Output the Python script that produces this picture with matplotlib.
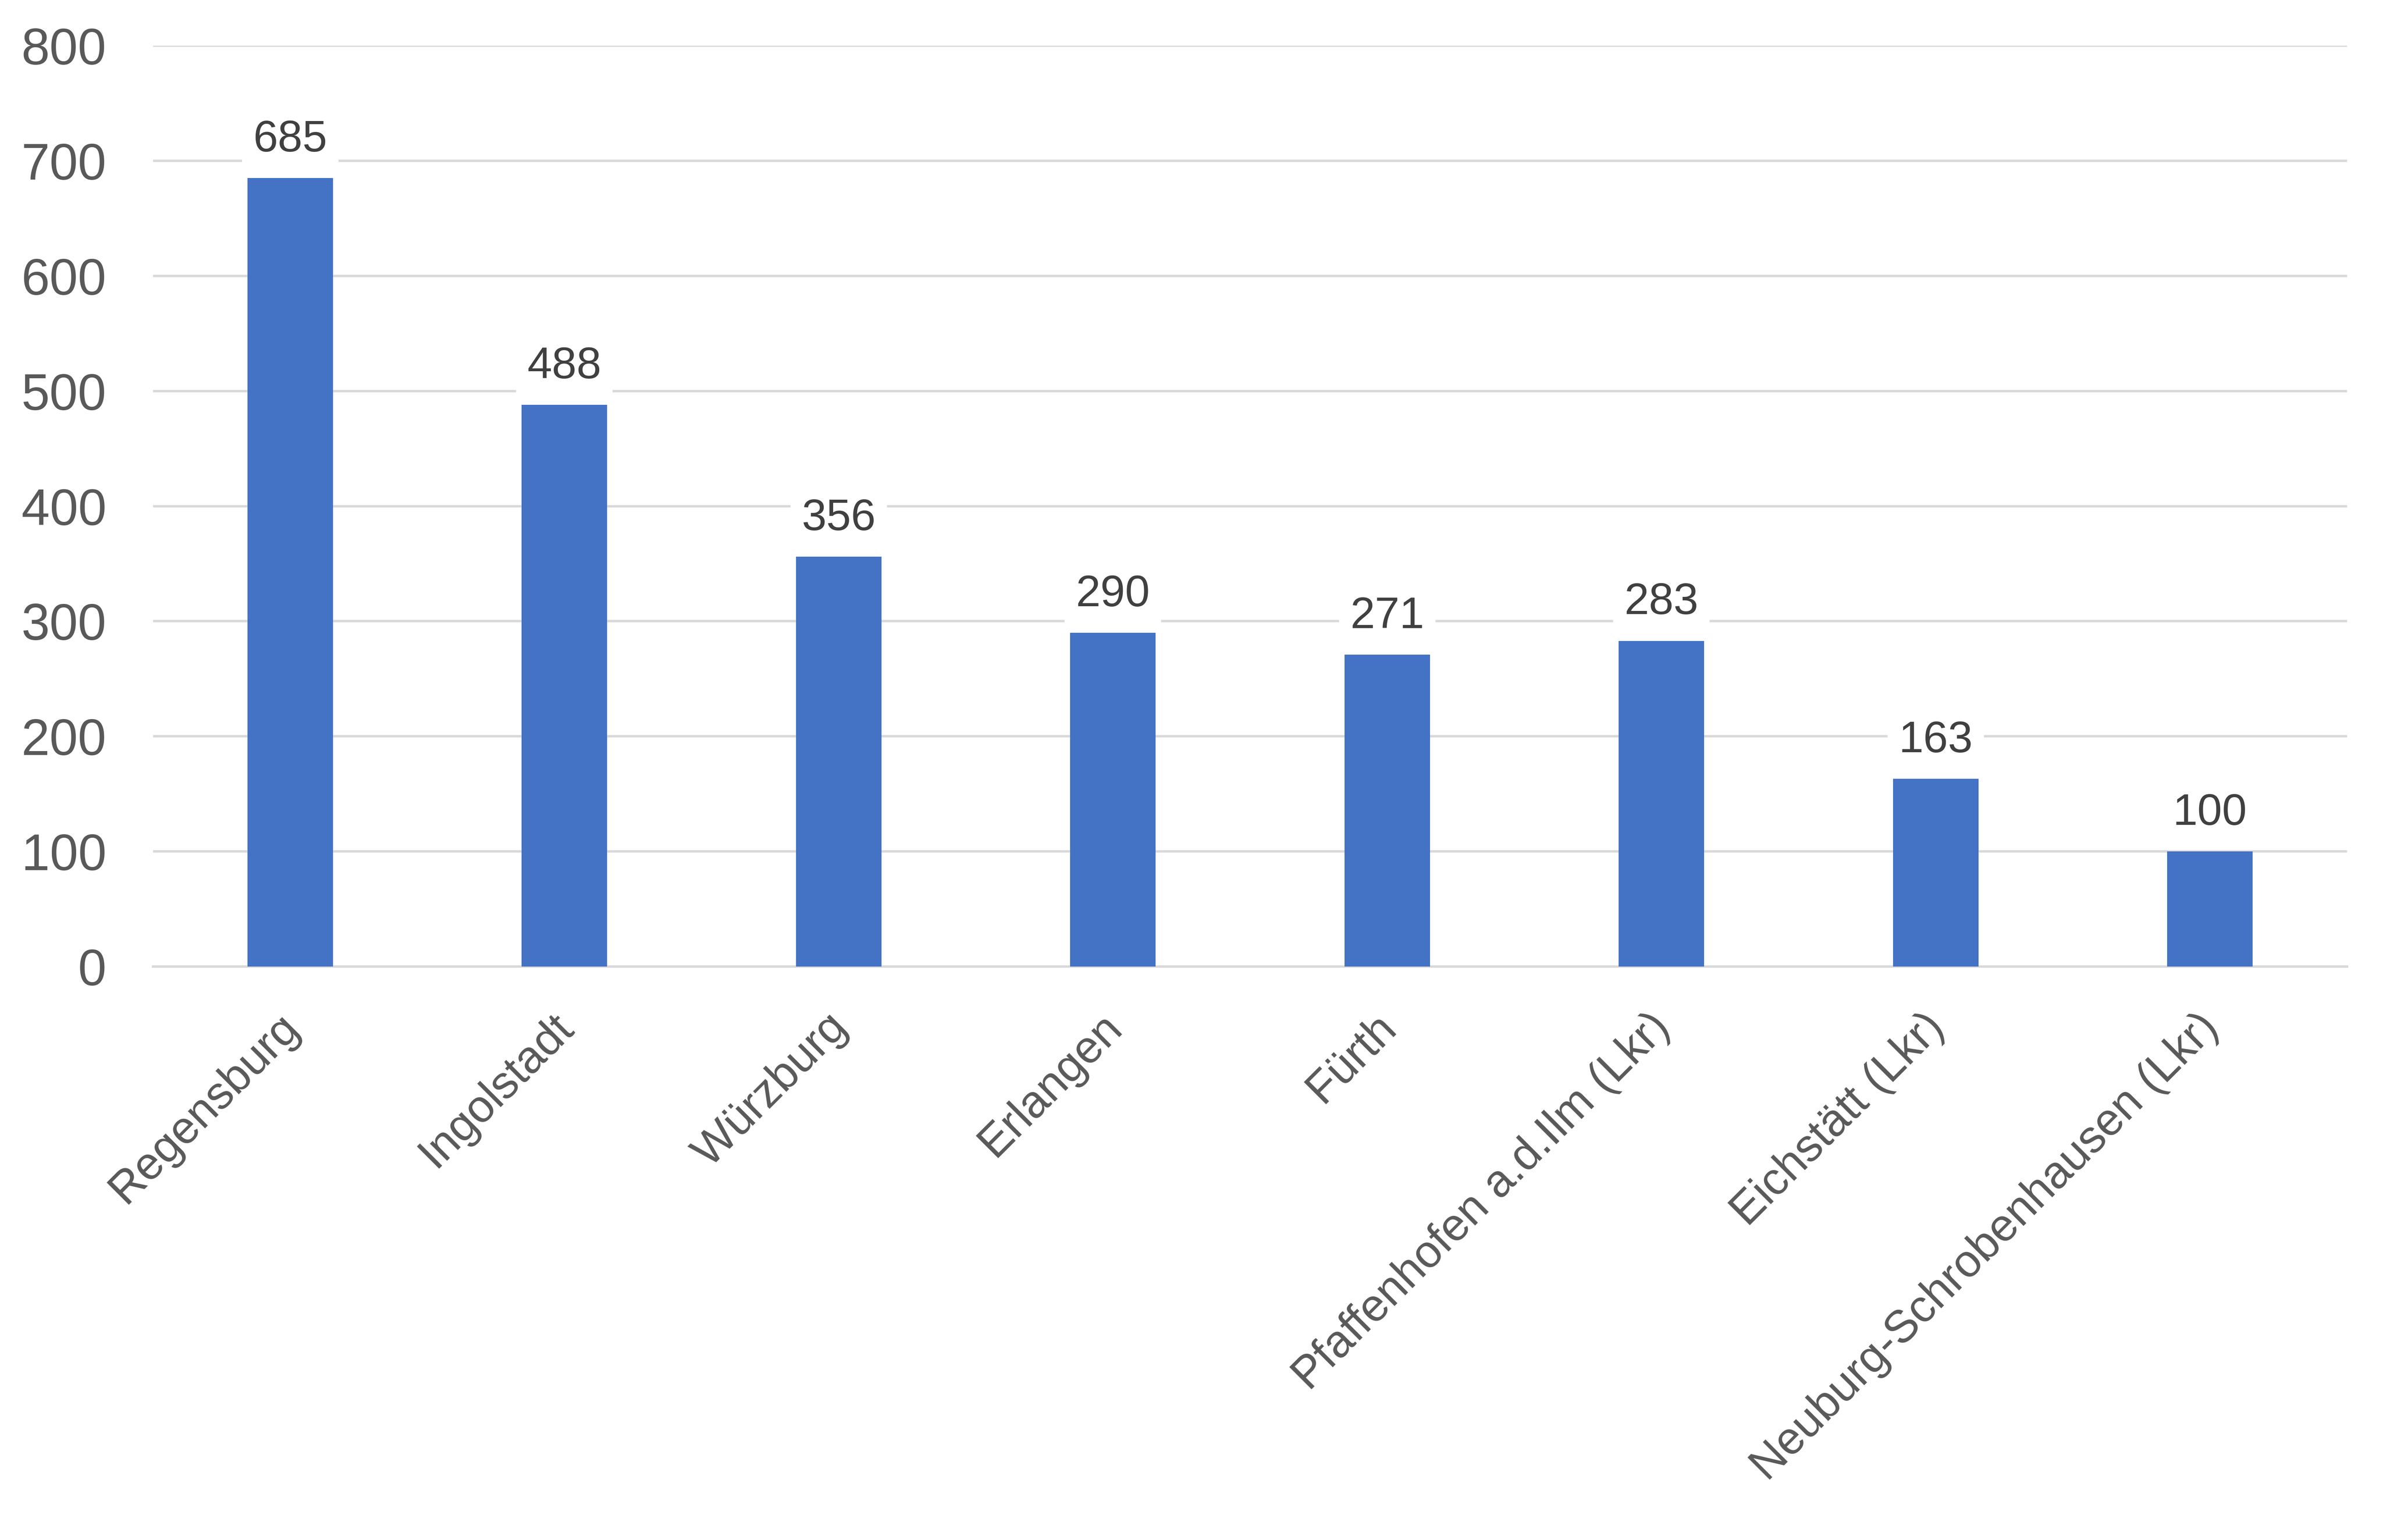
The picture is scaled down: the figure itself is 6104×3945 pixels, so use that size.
import matplotlib
matplotlib.use("Agg")
import matplotlib.pyplot as plt
import matplotlib.transforms as mtransforms

plt.rcParams['font.family'] = ['Liberation Sans', 'DejaVu Sans']

categories = ['Regensburg', 'Ingolstadt', 'Würzburg', 'Erlangen', 'Fürth',
              'Pfaffenhofen a.d.Ilm (Lkr)', 'Eichstätt (Lkr)',
              'Neuburg-Schrobenhausen (Lkr)']
values = [685, 488, 356, 290, 271, 283, 163, 100]
yticks = [0, 100, 200, 300, 400, 500, 600, 700, 800]

BAR = '#4472C4'
GRID = '#D9D9D9'
TICK = '#595959'
LABEL = '#404040'

DPI = 200
fig = plt.figure(figsize=(6104 / DPI, 3945 / DPI), dpi=DPI)
ax = fig.add_axes([392 / 6104, 1 - 2476 / 3945, (6012 - 392) / 6104, (2476 - 117) / 3945])

x = list(range(len(categories)))
bars = ax.bar(x, values, width=0.312, color=BAR, zorder=2)

ax.set_xlim(-0.5, len(categories) - 0.5)
ax.set_ylim(0, 800)
ax.set_yticks(yticks)
ax.set_yticklabels([str(t) for t in yticks])
ax.yaxis.grid(True, color=GRID, linewidth=2.2, zorder=0)
ax.set_axisbelow(True)

for s in ['top', 'right', 'left']:
    ax.spines[s].set_visible(False)
ax.spines['bottom'].set_color(GRID)
ax.spines['bottom'].set_linewidth(2.2)
ax.spines['bottom'].set_zorder(1)

ax.tick_params(axis='y', length=0, pad=43, labelsize=47, labelcolor=TICK)
ax.tick_params(axis='x', length=0, pad=50, labelsize=42, labelcolor=TICK)

ax.set_xticks(x)
ax.set_xticklabels(categories, rotation=45, ha='right', va='center',
                   rotation_mode='anchor')
offset = mtransforms.ScaledTranslation(5 / DPI, 0, fig.dpi_scale_trans)
for lab in ax.get_xticklabels():
    lab.set_transform(lab.get_transform() + offset)

for xi, v in zip(x, values):
    ax.annotate(str(v), xy=(xi, v), xytext=(0, 35), textcoords='offset points',
                ha='center', va='center', fontsize=41, color=LABEL, zorder=3,
                bbox=dict(boxstyle='square,pad=0.25', facecolor='white',
                          edgecolor='none'))

fig.savefig('out.png', dpi=DPI, facecolor='white')
